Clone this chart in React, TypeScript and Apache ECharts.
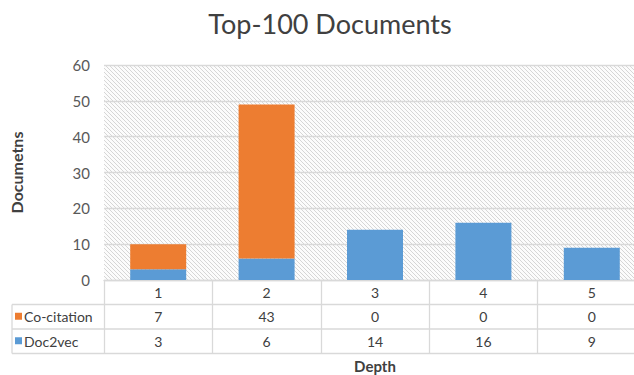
import React, { useEffect, useRef } from "react";
import * as echarts from "echarts";

const depths = ["1", "2", "3", "4", "5"];
const seriesNames = ["Co-citation", "Doc2vec"];
const coCitation = [7, 43, 0, 0, 0];
const doc2vec = [3, 6, 14, 16, 9];
const yTicks = [0, 10, 20, 30, 40, 50, 60];

const ORANGE = "#ED7D31";
const BLUE = "#5B9BD5";
const LINE = "#d9d9d9";
const TEXT = "#595959";
const FONT = "Lato, 'Open Sans', sans-serif";

// diagonal hatch tile for the plot background
function makeHatch(): HTMLCanvasElement {
  const size = 4;
  const c = document.createElement("canvas");
  c.width = size;
  c.height = size;
  const ctx = c.getContext("2d")!;
  const img = ctx.createImageData(size, size);
  for (let y = 0; y < size; y++) {
    for (let x = 0; x < size; x++) {
      const i = (y * size + x) * 4;
      const on = (((x - y) % size) + size) % size === 0;
      const v = on ? 214 : 252;
      img.data[i] = v;
      img.data[i + 1] = v;
      img.data[i + 2] = v;
      img.data[i + 3] = 255;
    }
  }
  ctx.putImageData(img, 0, 0);
  return c;
}

export default function App() {
  const ref = useRef<HTMLDivElement>(null);

  useEffect(() => {
    document.body.style.margin = "0";
    const chart = echarts.init(ref.current!, undefined, { renderer: "svg" });

    const gridLeft = 104;
    const gridTop = 65;
    const gridBottomY = 280;
    const rowH = 24.5;
    const tableLeft = 12;
    const rowY = [gridBottomY, gridBottomY + rowH, gridBottomY + rowH * 2, gridBottomY + rowH * 3];

    const rowLines = [1, 2, 3].map((r) => ({
      type: "line",
      shape: { x1: tableLeft, y1: rowY[r], x2: 700, y2: rowY[r] },
      style: { stroke: LINE, lineWidth: 1.3 },
      silent: true,
    }));

    const legendCells: any[] = [];
    const seriesColors = [ORANGE, BLUE];
    seriesNames.forEach((name, i) => {
      const cy = (rowY[i + 1] + rowY[i + 2]) / 2;
      legendCells.push({
        type: "rect",
        shape: { x: 15, y: cy - 4, width: 7, height: 7 },
        style: { fill: seriesColors[i] },
      });
      legendCells.push({
        type: "text",
        x: 24,
        y: cy,
        style: {
          text: name,
          fill: "#404040",
          font: `14px ${FONT}`,
          verticalAlign: "middle",
          align: "left",
        },
      });
    });

    chart.setOption({
      animation: false,
      title: {
        text: "Top-100 Documents",
        left: 325,
        top: 5,
        textAlign: "center",
        textStyle: { fontFamily: FONT, fontSize: 27, fontWeight: "normal", color: "#404040" },
      },
      grid: {
        left: gridLeft,
        top: gridTop,
        right: -12,
        bottom: 375 - gridBottomY,
        containLabel: false,
        outerBoundsMode: "none",
        show: true,
        borderWidth: 0,
        backgroundColor: { image: makeHatch(), repeat: "repeat" },
      },
      xAxis: {
        type: "category",
        data: depths,
        name: "Depth",
        nameLocation: "middle",
        nameGap: 78,
        nameTextStyle: { fontFamily: FONT, fontSize: 15, fontWeight: "bold", color: "#404040" },
        axisLine: { show: true, lineStyle: { color: LINE, width: 1.3 } },
        axisTick: { show: true, length: rowH * 3, lineStyle: { color: LINE, width: 1.3 } },
        axisLabel: {
          margin: 0,
          interval: 0,
          formatter: (v: string, idx: number) =>
            `{h|${v}}\n{r|${coCitation[idx]}}\n{r|${doc2vec[idx]}}`,
          rich: {
            h: { fontFamily: FONT, fontSize: 14, color: "#404040", lineHeight: rowH, height: rowH },
            r: { fontFamily: FONT, fontSize: 14, color: "#404040", lineHeight: rowH, height: rowH },
          },
        },
      },
      yAxis: {
        type: "value",
        min: yTicks[0],
        max: yTicks[yTicks.length - 1],
        interval: 10,
        name: "Documetns",
        nameLocation: "middle",
        nameGap: 80,
        nameTextStyle: { fontFamily: FONT, fontSize: 16, fontWeight: "bold", color: "#404040" },
        axisLine: { show: false },
        axisTick: { show: false },
        axisLabel: { margin: 14, fontFamily: FONT, fontSize: 15, color: TEXT },
        splitLine: { show: true, lineStyle: { color: LINE, width: 1.3 } },
      },
      graphic: [
        ...rowLines,
        {
          type: "line",
          shape: { x1: tableLeft, y1: rowY[1], x2: tableLeft, y2: rowY[3] },
          style: { stroke: LINE, lineWidth: 1.3 },
        },
        ...legendCells,
      ],
      series: [
        {
          name: seriesNames[1],
          type: "bar",
          stack: "total",
          data: doc2vec,
          barWidth: 56,
          itemStyle: { color: BLUE },
        },
        {
          name: seriesNames[0],
          type: "bar",
          stack: "total",
          data: coCitation,
          barWidth: 56,
          itemStyle: { color: ORANGE },
        },
      ],
    });

    return () => chart.dispose();
  }, []);

  return <div ref={ref} style={{ width: 634, height: 375 }} />;
}
